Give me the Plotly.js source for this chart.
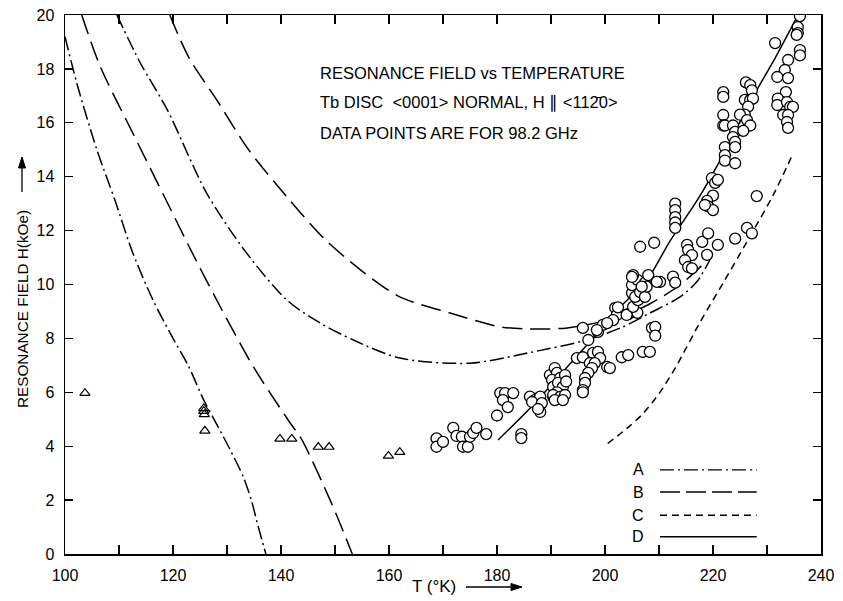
<!DOCTYPE html>
<html><head><meta charset="utf-8">
<script src="https://cdn.plot.ly/plotly-3.0.1.min.js"></script>
<style>html,body{margin:0;padding:0;background:#fff}#chart{width:843px;height:601px}</style>
</head><body><div id="chart"></div>
<script>
// ---- axis ticks ----
const xTickVals = [100,110,120,130,140,150,160,170,180,190,200,210,220,230,240];
const xTickText = ['100','','120','','140','','160','','180','','200','','220','','240'];
const yTickVals = [0,2,4,6,8,10,12,14,16,18,20];

// ---- theory curves (T in K, H in kOe) ----
const curveA1_T = [100,102.2,105.9,109.3,112.5,116.3,120.0,122.8,125.7,128.0,130.6,133.0,134.5,135.8,137.2];
const curveA1_H = [19.2,17.46,15.0,13.1,11.2,9.42,8.0,7.0,5.71,4.85,3.86,2.87,2.0,1.0,0];

const curveB1_T = [103.1,106.5,112.6,118.8,123.5,128.1,134.9,141.7,143.8,149.1,151.2,153.2];
const curveB1_H = [20,18.1,15.6,13.1,11.2,9.42,6.94,4.86,4.26,2.0,1.0,0];

const curveA2_T = [109.6,114,118.9,126.2,133.5,141.1,147,153.4,162,175,186.7,196.6,203,208.3,213.9,217,219.4];
const curveA2_H = [20,18.2,16.5,13.4,11.2,9.42,8.6,7.94,7.27,7.08,7.5,7.94,8.4,8.94,9.54,10.1,10.9];

const curveB2_T = [119.4,123,128.1,134,141.1,148,155,162,171.3,180.6,186,193,202.2,208,214,219.2];
const curveB2_H = [20,18.4,16.85,15.0,13.25,11.7,10.5,9.54,8.94,8.43,8.35,8.39,8.76,9.25,10.0,10.95];

const curveC_T = [200.5,204,207,210,213,217.6,222,226.9,231.1,234.8];
const curveC_H = [4.1,4.65,5.2,5.95,6.9,8.6,10.1,11.8,13.3,14.85];

const curveD_T = [180.2,186.7,193,199.1,203,207.8,212,217,221.3,227.4,231.5,235.5];
const curveD_H = [4.23,5.53,6.94,8.31,9.2,10.17,11.6,13.1,14.6,16.96,18.4,19.9];

// ---- measured points, 98.2 GHz ----
const circleT = [
 168.8,168.8,170,171.9,172.5,173.5,173.7,174.6,175,175.6,176.2,178,
 180,180.6,181.5,183,181.1,182,184.5,184.5,186.1,187,188,186.5,188.3,188,187.6,
 189.8,190.7,191.1,190.2,191.7,192.6,190.4,191.3,192.2,190.4,192,191.1,190.4,191.7,192.6,190.7,192.2,192.8,
 194.8,195.9,196.9,195.9,198.7,199.6,197.8,198.7,199.1,197.2,198.1,197.6,196.9,196.3,196.3,195.9,195.9,200.4,200.9,198.5,
 203.1,204.3,207,208.3,208.7,209.3,209.3,201.9,202.2,201.5,200.4,202.4,204.3,205.2,206,204,205.2,206.1,205,205.6,205,206,207.4,206.5,207.4,205.2,208,205,207.7,206.8,
 206.5,209.1,210.2,209.6,212.6,213,213,213,213,213,213,
 215.2,215.4,216.1,214.8,215.4,216.1,218,219.1,220.9,218.9,219.8,220.4,220,218.9,219.1,220,220.9,218.5,
 221.9,221.9,221.9,221.9,222.2,223.7,224.1,223.7,224.1,222.2,224.1,222.2,222.2,224.1,224.1,226.3,227.2,228.1,
 226.1,226.9,227.2,225.9,226.9,227.4,226.5,225.9,225,226.3,226.9,225.6,
 236.1,235.7,235.7,235.5,236.1,236.1,231.5,233.9,233.3,231.9,233.9,233.5,232,231.9,233.7,234.3,234.8,233,233.9,233.7,233.9
];
const circleH = [
 4.29,3.98,4.16,4.68,4.38,4.35,3.98,3.98,4.35,4.49,4.68,4.45,
 5.14,5.97,5.97,5.97,5.71,5.45,4.45,4.3,5.84,5.71,5.84,5.64,5.6,5.27,5.38,
 6.64,6.9,6.72,6.46,6.53,6.64,6.2,6.35,6.2,5.83,5.9,6.0,5.9,5.83,5.9,5.71,5.71,6.4,
 7.27,7.3,7.94,8.39,8.24,8.5,7.46,7.5,7.27,7.08,7.08,6.9,6.72,6.53,6.35,6.08,6.0,6.94,6.9,8.31,
 7.3,7.38,7.5,7.5,8.39,8.43,8.1,9.13,8.87,8.68,8.57,9.15,8.9,9.0,8.95,8.87,9.17,9.42,9.68,9.54,9.98,10.17,10.06,9.72,9.54,10.35,10.35,10.28,9.92,9.92,
 11.4,11.55,10.1,10.1,10.29,10.07,13.0,12.76,12.5,12.3,12.1,
 11.47,11.28,11.09,10.9,10.65,10.6,11.58,11.9,11.47,11.1,13.95,13.77,13.3,13.1,12.9,12.76,13.88,12.95,
 17.14,16.96,16.29,15.9,15.9,15.9,15.66,15.47,15.29,15.1,15.1,14.8,14.6,14.5,11.7,12.1,11.9,13.28,
 17.5,17.4,17.2,16.85,16.85,16.9,16.6,16.3,16.3,16.1,15.9,15.7,
 19.96,19.55,19.33,19.26,18.7,18.5,18.96,18.33,17.96,17.7,17.66,17.14,16.9,16.66,16.77,16.59,16.59,16.29,16.29,16.03,15.81
];
const triangleT = [103.7,125.7,125.7,125.8,125.9,139.8,142,146.9,148.9,159.9,162];
const triangleH = [5.97,5.4,5.3,5.18,4.57,4.27,4.27,3.97,3.97,3.64,3.78];

const legendLabels = ['A','B','C','D'];
const legendDashes = ['14px,4px,2px,4px','20px,6px','7px,5px','solid'];
const curveDashA = '14px,4px,2px,4px';
const curveDashB = '20px,8px';
const curveDashC = '7px,5px';

const FONT = 'Liberation Sans, Arial, sans-serif';
const lineStyle = (dash) => ({color:'#000', width:1.5, dash:dash, shape:'spline', smoothing:0.8});
function curve(T, H, dash){
  return {x:T, y:H, type:'scatter', mode:'lines', line:lineStyle(dash), hoverinfo:'skip', showlegend:false};
}
const traces = [
  curve(curveA1_T, curveA1_H, curveDashA),
  curve(curveB1_T, curveB1_H, curveDashB),
  curve(curveA2_T, curveA2_H, curveDashA),
  curve(curveB2_T, curveB2_H, curveDashB),
  curve(curveC_T, curveC_H, curveDashC),
  curve(curveD_T, curveD_H, 'solid'),
  {x:triangleT, y:triangleH, type:'scatter', mode:'markers', showlegend:false,
   marker:{symbol:'triangle-up-open', size:9, color:'#000', line:{color:'#000', width:1.2}}},
  {x:circleT, y:circleH, type:'scatter', mode:'markers', showlegend:false,
   marker:{symbol:'circle', size:11, color:'#fff', line:{color:'#000', width:1.3}}}
];

// pixel -> paper helpers for decorations outside the data
const PL = 65, PW = 756, PB = 554, PH = 539;
const px = (x) => (x - PL) / PW;
const py = (y) => (PB - y) / PH;

// legend drawn as letters + sample lines in the lower right
const legY = [0.156, 0.115, 0.072, 0.032];
const shapes = legendLabels.map((l,i)=>({type:'line', xref:'paper', yref:'paper',
  x0:0.787, x1:0.915, y0:legY[i], y1:legY[i], line:{color:'#000', width:1.4, dash:legendDashes[i]}}));
const annotations = legendLabels.map((l,i)=>({text:l, xref:'paper', yref:'paper', x:0.758, y:legY[i],
  xanchor:'center', yanchor:'middle', showarrow:false, font:{family:FONT, size:16, color:'#000'}}));

// arrows next to the axis titles
shapes.push({type:'line', xref:'paper', yref:'paper', x0:px(466), x1:px(513), y0:py(587), y1:py(587),
  line:{color:'#000', width:1.3}});
shapes.push({type:'path', xref:'paper', yref:'paper', fillcolor:'#000', line:{color:'#000', width:1},
  path:`M ${px(522)} ${py(587)} L ${px(511)} ${py(583.5)} L ${px(511)} ${py(590.5)} Z`});
shapes.push({type:'line', xref:'paper', yref:'paper', x0:px(22), x1:px(22), y0:py(192), y1:py(167),
  line:{color:'#000', width:1.3}});
shapes.push({type:'path', xref:'paper', yref:'paper', fillcolor:'#000', line:{color:'#000', width:1},
  path:`M ${px(22)} ${py(157)} L ${px(18.5)} ${py(168)} L ${px(25.5)} ${py(168)} Z`});

const titleLines = ['RESONANCE FIELD vs TEMPERATURE',
  'Tb DISC&nbsp;&nbsp;&lt;0001&gt; NORMAL, H ∥ &lt;112\u03040&gt;',
  'DATA POINTS ARE FOR 98.2 GHz'];
const titleY = [0.892, 0.837, 0.781];
titleLines.forEach((t,i)=>annotations.push({text:t, xref:'paper', yref:'paper', x:0.3347, y:titleY[i],
  xanchor:'left', yanchor:'middle', showarrow:false, font:{family:FONT, size:16.5, color:'#000'}}));

// axis titles
annotations.push({text:'T (°K)', xref:'paper', yref:'paper', x:px(434), y:py(586), xanchor:'center', yanchor:'middle',
  showarrow:false, font:{family:FONT, size:17, color:'#000'}});
annotations.push({text:'RESONANCE FIELD H(kOe)', xref:'paper', yref:'paper', x:px(22), y:py(309), textangle:-90,
  xanchor:'center', yanchor:'middle', showarrow:false, font:{family:FONT, size:15.3, color:'#000'}});

const layout = {
  width:843, height:601,
  margin:{l:65, r:22, t:15, b:47},
  paper_bgcolor:'#fff', plot_bgcolor:'#fff',
  font:{family:FONT, color:'#000'},
  showlegend:false,
  xaxis:{range:[100,240], tickvals:xTickVals, ticktext:xTickText, ticks:'inside', ticklen:9, tickwidth:1.3,
    tickcolor:'#000', showline:true, linecolor:'#000', linewidth:1.5, mirror:'ticks', showgrid:false, zeroline:false,
    tickfont:{size:16, family:FONT}, ticklabelstandoff:6},
  yaxis:{range:[0,20], tickvals:yTickVals, ticks:'inside', ticklen:8, tickwidth:1.3,
    tickcolor:'#000', showline:true, linecolor:'#000', linewidth:1.5, mirror:'ticks', showgrid:false, zeroline:false,
    tickfont:{size:16, family:FONT}, ticklabelstandoff:6},
  shapes:shapes, annotations:annotations
};
Plotly.newPlot('chart', traces, layout, {displayModeBar:false, staticPlot:true});
</script></body></html>
